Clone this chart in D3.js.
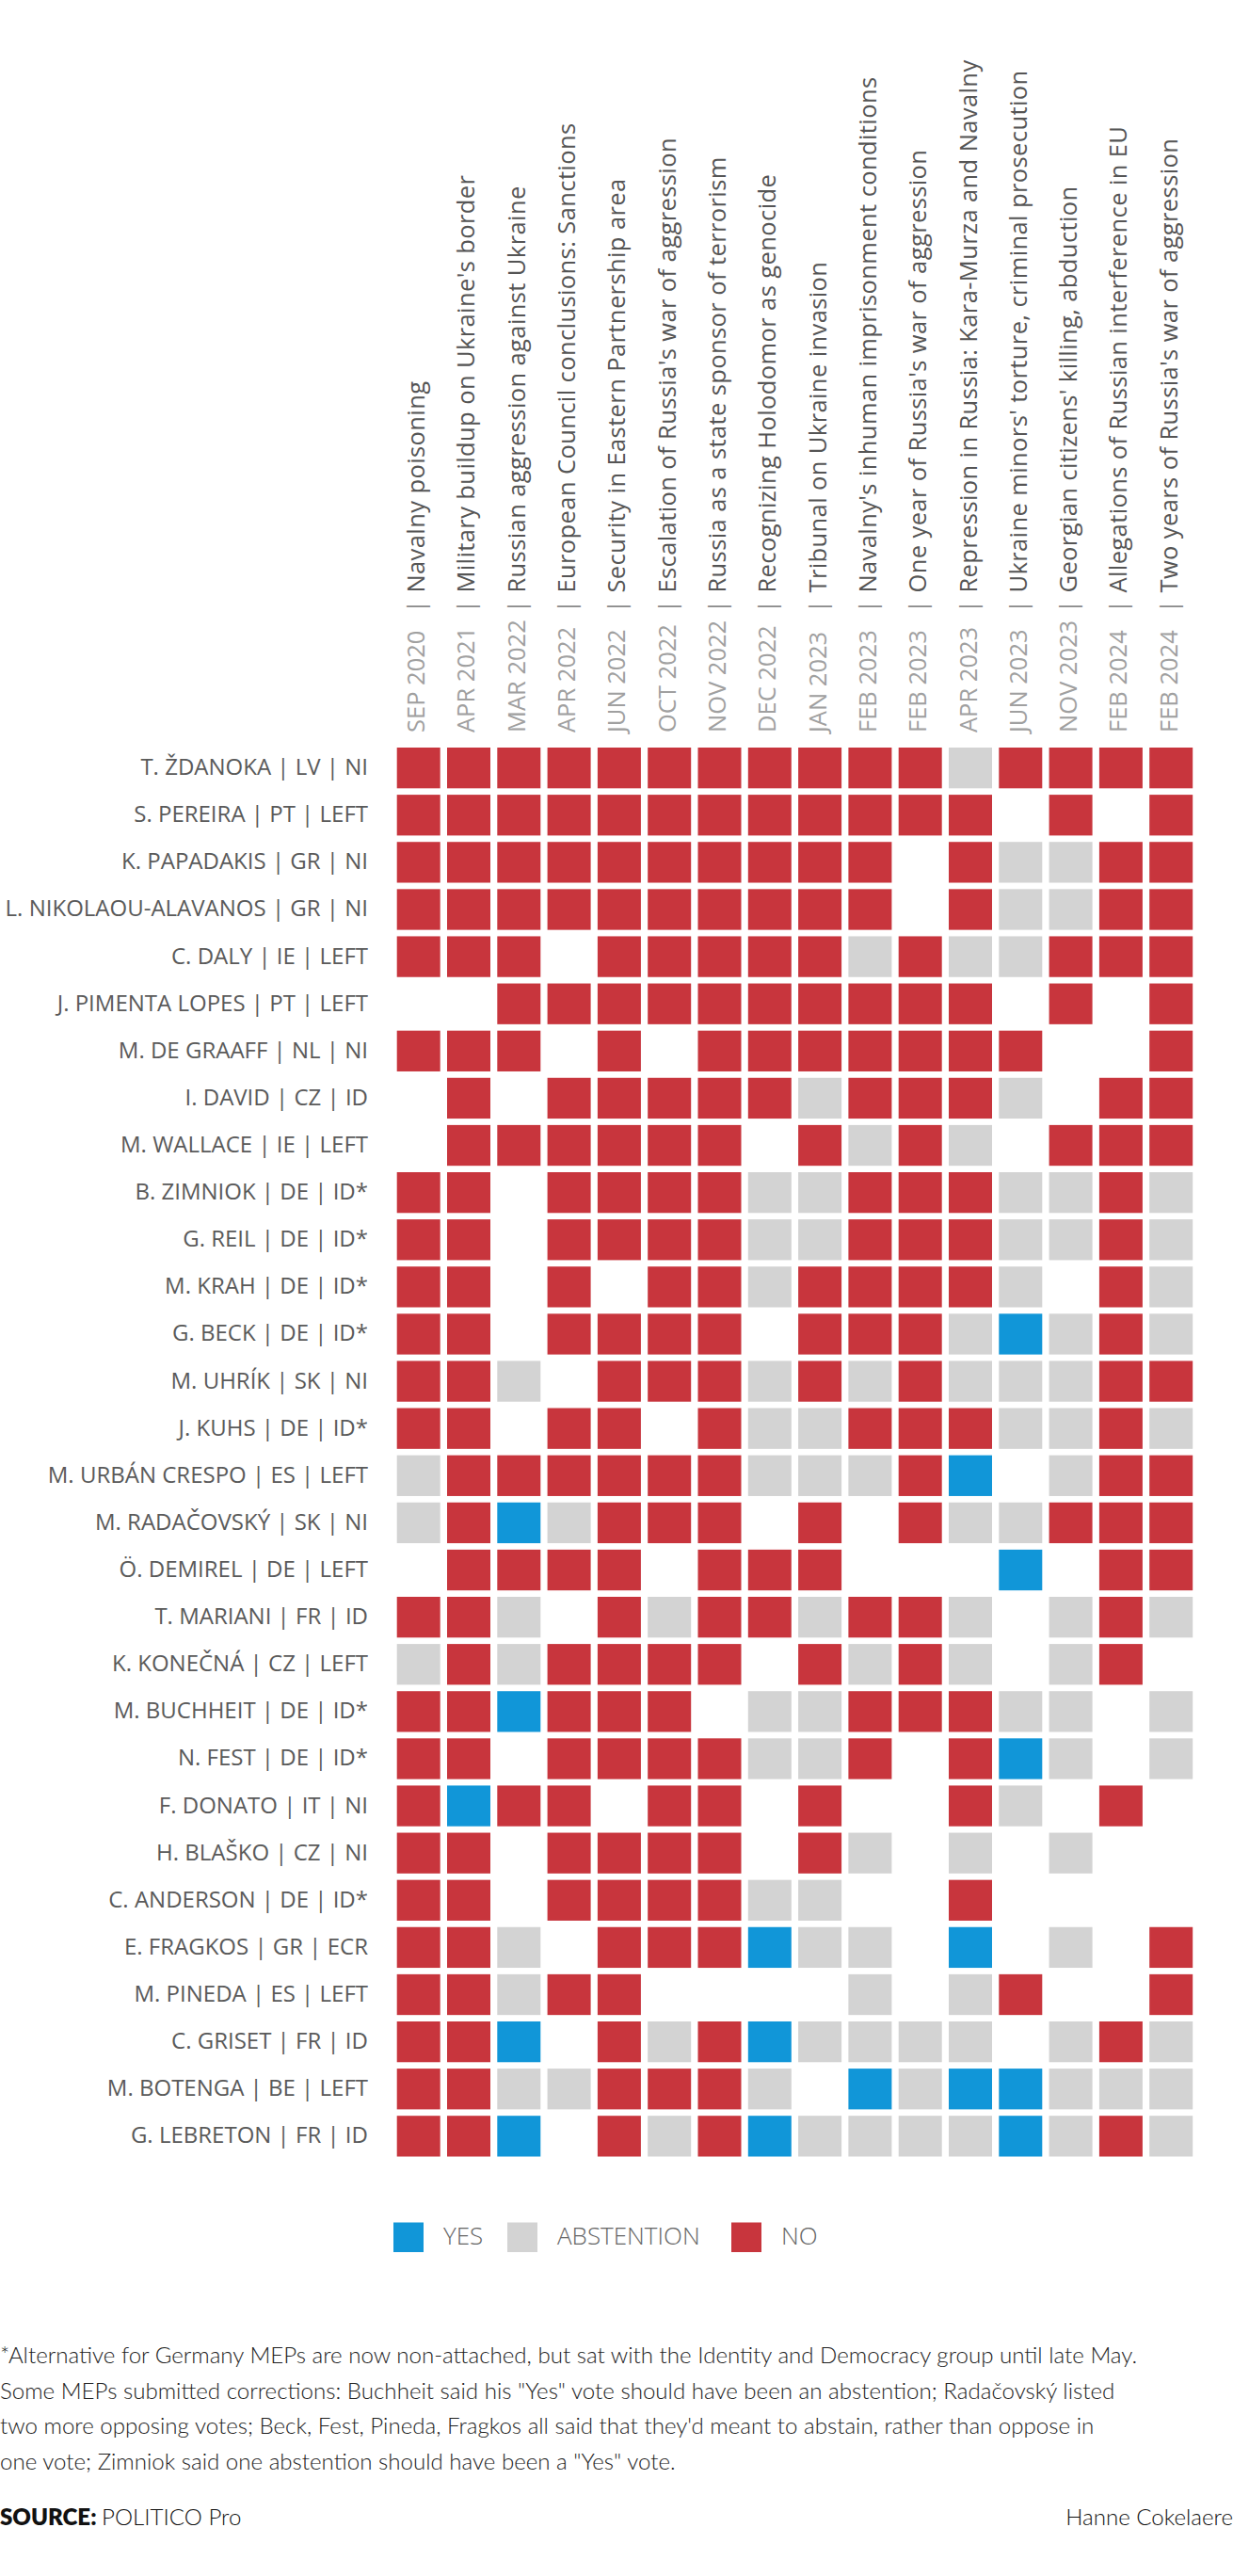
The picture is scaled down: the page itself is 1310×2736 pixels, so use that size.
<!DOCTYPE html>
<html>
<head>
<meta charset="utf-8">
<script src="https://cdn.jsdelivr.net/npm/d3@7"></script>
<style>
  html, body { margin: 0; padding: 0; background: #fff; }
  svg { display: block; font-family: "Open Sans", Lato, sans-serif; }
</style>
</head>
<body>
<svg id="chart" width="1310" height="2736"></svg>
<script>
const dates = ["SEP 2020","APR 2021","MAR 2022","APR 2022","JUN 2022","OCT 2022","NOV 2022","DEC 2022",
  "JAN 2023","FEB 2023","FEB 2023","APR 2023","JUN 2023","NOV 2023","FEB 2024","FEB 2024"];
const topics = ["Navalny poisoning","Military buildup on Ukraine's border","Russian aggression against Ukraine",
  "European Council conclusions: Sanctions","Security in Eastern Partnership area","Escalation of Russia's war of aggression",
  "Russia as a state sponsor of terrorism","Recognizing Holodomor as genocide","Tribunal on Ukraine invasion",
  "Navalny's inhuman imprisonment conditions","One year of Russia's war of aggression","Repression in Russia: Kara-Murza and Navalny",
  "Ukraine minors' torture, criminal prosecution","Georgian citizens' killing, abduction","Allegations of Russian interference in EU",
  "Two years of Russia's war of aggression"];
const meps = ["T. ŽDANOKA | LV | NI","S. PEREIRA | PT | LEFT","K. PAPADAKIS | GR | NI","L. NIKOLAOU-ALAVANOS | GR | NI",
  "C. DALY | IE | LEFT","J. PIMENTA LOPES | PT | LEFT","M. DE GRAAFF | NL | NI","I. DAVID | CZ | ID","M. WALLACE | IE | LEFT",
  "B. ZIMNIOK | DE | ID*","G. REIL | DE | ID*","M. KRAH | DE | ID*","G. BECK | DE | ID*","M. UHRÍK | SK | NI","J. KUHS | DE | ID*",
  "M. URBÁN CRESPO | ES | LEFT","M. RADAČOVSKÝ | SK | NI","Ö. DEMIREL | DE | LEFT","T. MARIANI | FR | ID","K. KONEČNÁ | CZ | LEFT",
  "M. BUCHHEIT | DE | ID*","N. FEST | DE | ID*","F. DONATO | IT | NI","H. BLAŠKO | CZ | NI","C. ANDERSON | DE | ID*",
  "E. FRAGKOS | GR | ECR","M. PINEDA | ES | LEFT","C. GRISET | FR | ID","M. BOTENGA | BE | LEFT","G. LEBRETON | FR | ID"];
// N = no, A = abstention, Y = yes, - = no vote recorded
const votes = [
  "NNNNNNNNNNNANNNN","NNNNNNNNNNNN-N-N","NNNNNNNNNN-NAANN","NNNNNNNNNN-NAANN","NNN-NNNNNANAANNN",
  "--NNNNNNNNNN-N-N","NNN-N-NNNNNNN--N","-N-NNNNNANNNA-NN","-NNNNNN-NANA-NNN","NN-NNNNAANNNAANA",
  "NN-NNNNAANNNAANA","NN-N-NNANNNNA-NA","NN-NNNN-NNNAYANA","NNA-NNNANANAAANN","NN-NN-NAANNNAANA",
  "ANNNNNNAAANY-ANN","ANYANNN-N-NAANNN","-NNNN-NNN---Y-NN","NNA-NANNANNA-ANA","ANANNNN-NANA-AN-",
  "NNYNNN-AANNNAA-A","NN-NNNNAAN-NYA-A","NYNN-NN-N--NA-N-","NN-NNNN-NA-A-A--","NN-NNNNAA--N----",
  "NNA-NNNYAA-Y-A-N","NNANN----A-AN--N","NNY-NANYAAAA-ANA","NNAANNNA-YAYYAAA","NNY-NANYAAAAYANA"];
const legendKeys = ["Y","A","N"];
const legendLabels = ["YES","ABSTENTION","NO"];
const footnotes = [
  "*Alternative for Germany MEPs are now non-attached, but sat with the Identity and Democracy group until late May.",
  "Some MEPs submitted corrections: Buchheit said his \"Yes\" vote should have been an abstention; Radačovský listed",
  "two more opposing votes; Beck, Fest, Pineda, Fragkos all said that they'd meant to abstain, rather than oppose in",
  "one vote; Zimniok said one abstention should have been a \"Yes\" vote."];
const sourceText = "POLITICO Pro";
const authorText = "Hanne Cokelaere";

const svg = d3.select("#chart");
const cols = d3.range(dates.length);
const x = d3.scaleBand().domain(cols).range([421.7, 1267.2]).paddingInner(0.137).paddingOuter(0);
const y = d3.scaleBand().domain(meps).range([794, 2290.5]).paddingInner(0.136).paddingOuter(0);
const color = d3.scaleOrdinal().domain(["Y","A","N"]).range(["#1196d8","#d3d3d3","#c8353d"]);

const cells = [];
votes.forEach((row, i) => row.split("").forEach((v, j) => {
  if (v !== "-") cells.push({mep: meps[i], col: j, v});
}));

svg.append("g").selectAll("rect").data(cells).join("rect")
  .attr("x", d => x(d.col)).attr("y", d => y(d.mep))
  .attr("width", x.bandwidth()).attr("height", y.bandwidth())
  .attr("fill", d => color(d.v));

// row labels
svg.append("g").selectAll("text").data(meps).join("text")
  .attr("x", 391).attr("y", d => y(d) + y.bandwidth() / 2 + 7.5)
  .attr("text-anchor", "end").attr("font-size", 24).attr("fill", "#5a5a5a")
  .text(d => d);

// column labels
const colG = svg.append("g").selectAll("g").data(cols).join("g")
  .attr("transform", d => `translate(${x(d) + x.bandwidth() / 2 + 6.5},778) rotate(-90)`);
colG.append("text").attr("x", 0).attr("y", 0).attr("font-size", 25.5).attr("fill", "#a0a0a0")
  .text(d => dates[d]);
const tt = colG.append("text").attr("x", 127).attr("y", 0).attr("font-size", 25.5)
  .attr("letter-spacing", 0.4).attr("fill", "#555");
tt.append("tspan").attr("fill", "#8a8a8a").text("| ");
tt.append("tspan").text(d => topics[d]);

// legend
const legX = [418, 539, 777];
const legG = svg.append("g").selectAll("g").data(legendKeys).join("g")
  .attr("transform", (d, i) => `translate(${legX[i]},2360.5)`);
legG.append("rect").attr("width", 32).attr("height", 31.5).attr("fill", d => color(d));
legG.append("text").attr("x", 53).attr("y", 23.5).attr("font-size", 26).attr("font-weight", 300)
  .attr("fill", "#666").text((d, i) => legendLabels[i]);

// footnotes
svg.append("g").selectAll("text").data(footnotes).join("text")
  .attr("x", 0).attr("y", (d, i) => 2510 + i * 37.7)
  .attr("font-family", "Lato, sans-serif")
  .attr("font-size", 24.1).attr("font-weight", 300).attr("fill", "#222")
  .text(d => d);

const src = svg.append("text").attr("x", 0).attr("y", 2682).attr("font-family", "Lato, sans-serif")
  .attr("font-size", 24.1).attr("fill", "#111");
src.append("tspan").attr("font-weight", 800).text("SOURCE: ");
src.append("tspan").attr("font-weight", 300).text(sourceText);
svg.append("text").attr("x", 1310).attr("y", 2682).attr("text-anchor", "end").attr("font-family", "Lato, sans-serif")
  .attr("font-size", 24.1).attr("font-weight", 300).attr("fill", "#111").text(authorText);
</script>
</body>
</html>
